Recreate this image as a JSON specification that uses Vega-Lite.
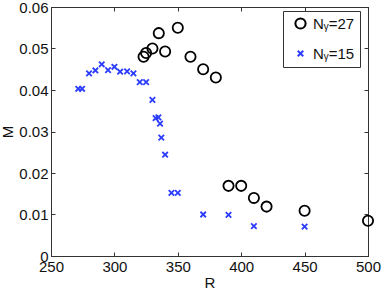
{
  "$schema": "https://vega.github.io/schema/vega-lite/v6.json",
  "width": 317,
  "height": 249,
  "autosize": {"type": "none"},
  "padding": {"left": 51, "top": 7, "right": 14, "bottom": 35},
  "background": "white",
  "config": {
    "view": {"stroke": "#333333", "strokeWidth": 1},
    "font": "Liberation Sans",
    "axis": {
      "grid": false,
      "domainColor": "#333333",
      "tickColor": "#333333",
      "labelColor": "#111111",
      "titleColor": "#111111",
      "labelFont": "Liberation Sans",
      "titleFont": "Liberation Sans",
      "labelFontSize": 15,
      "titleFontSize": 15,
      "titleFontWeight": "normal",
      "tickSize": -4,
      "labelPadding": 7,
      "labelFlush": false,
      "labelOverlap": false
    }
  },
  "data": {
    "values": [
      {"R": 323, "M": 0.048, "s": "Nᵧ=27"},
      {"R": 325, "M": 0.0489, "s": "Nᵧ=27"},
      {"R": 330, "M": 0.050, "s": "Nᵧ=27"},
      {"R": 335, "M": 0.0537, "s": "Nᵧ=27"},
      {"R": 340, "M": 0.0493, "s": "Nᵧ=27"},
      {"R": 350, "M": 0.055, "s": "Nᵧ=27"},
      {"R": 360, "M": 0.048, "s": "Nᵧ=27"},
      {"R": 370, "M": 0.045, "s": "Nᵧ=27"},
      {"R": 380, "M": 0.043, "s": "Nᵧ=27"},
      {"R": 390, "M": 0.0169, "s": "Nᵧ=27"},
      {"R": 400, "M": 0.0169, "s": "Nᵧ=27"},
      {"R": 410, "M": 0.014, "s": "Nᵧ=27"},
      {"R": 420, "M": 0.0119, "s": "Nᵧ=27"},
      {"R": 450, "M": 0.0109, "s": "Nᵧ=27"},
      {"R": 500, "M": 0.0085, "s": "Nᵧ=27"},
      {"R": 271.5, "M": 0.0403, "s": "Nᵧ=15"},
      {"R": 274.5, "M": 0.0403, "s": "Nᵧ=15"},
      {"R": 280, "M": 0.044, "s": "Nᵧ=15"},
      {"R": 285, "M": 0.0447, "s": "Nᵧ=15"},
      {"R": 290, "M": 0.0462, "s": "Nᵧ=15"},
      {"R": 295, "M": 0.0448, "s": "Nᵧ=15"},
      {"R": 300, "M": 0.0456, "s": "Nᵧ=15"},
      {"R": 304.5, "M": 0.0444, "s": "Nᵧ=15"},
      {"R": 310, "M": 0.0445, "s": "Nᵧ=15"},
      {"R": 315, "M": 0.044, "s": "Nᵧ=15"},
      {"R": 320, "M": 0.0419, "s": "Nᵧ=15"},
      {"R": 325, "M": 0.0419, "s": "Nᵧ=15"},
      {"R": 330, "M": 0.0376, "s": "Nᵧ=15"},
      {"R": 332.5, "M": 0.0332, "s": "Nᵧ=15"},
      {"R": 334.7, "M": 0.0334, "s": "Nᵧ=15"},
      {"R": 336, "M": 0.0319, "s": "Nᵧ=15"},
      {"R": 337, "M": 0.0285, "s": "Nᵧ=15"},
      {"R": 340, "M": 0.0244, "s": "Nᵧ=15"},
      {"R": 345, "M": 0.0152, "s": "Nᵧ=15"},
      {"R": 350, "M": 0.0152, "s": "Nᵧ=15"},
      {"R": 370, "M": 0.0100, "s": "Nᵧ=15"},
      {"R": 390, "M": 0.0099, "s": "Nᵧ=15"},
      {"R": 410, "M": 0.0072, "s": "Nᵧ=15"},
      {"R": 450, "M": 0.0071, "s": "Nᵧ=15"}
    ]
  },
  "layer": [
    {
      "mark": {"type": "point", "filled": false, "strokeWidth": 1.8, "opacity": 1},
      "encoding": {
        "x": {"field": "R", "type": "quantitative", "scale": {"domain": [250, 500], "nice": false, "zero": false},
              "axis": {"title": "R", "values": [250, 300, 350, 400, 450, 500], "titlePadding": 1}},
        "y": {"field": "M", "type": "quantitative", "scale": {"domain": [0, 0.06], "nice": false},
              "axis": {"title": "M", "values": [0, 0.01, 0.02, 0.03, 0.04, 0.05, 0.06], "titlePadding": 3,
                       "labelExpr": "datum.value == 0 ? '0' : format(datum.value, '.2f')"}},
        "color": {"field": "s", "type": "nominal",
                  "scale": {"domain": ["Nᵧ=27", "Nᵧ=15"], "range": ["#000000", "#2b3cff"]},
                  "legend": {"title": null, "orient": "none", "legendX": 232, "legendY": 4,
                             "strokeColor": "#333333", "fillColor": "white", "padding": 5,
                             "symbolOffset": 5, "labelOffset": 5, "rowPadding": 13,
                             "labelFontSize": 15, "labelFont": "Liberation Sans", "labelColor": "#111111",
                             "symbolSize": 50, "symbolStrokeWidth": 2}},
        "shape": {"field": "s", "type": "nominal",
                  "scale": {"domain": ["Nᵧ=27", "Nᵧ=15"], "range": ["circle", "M-1,-1L1,1M-1,1L1,-1"]}},
        "size": {"field": "s", "type": "nominal",
                 "scale": {"domain": ["Nᵧ=27", "Nᵧ=15"], "range": [105, 30]}, "legend": null}
      }
    },
    {
      "mark": {"type": "point", "opacity": 0},
      "encoding": {
        "x": {"field": "R", "type": "quantitative",
              "axis": {"orient": "top", "labels": false, "title": null, "values": [250, 300, 350, 400, 450, 500]}},
        "y": {"field": "M", "type": "quantitative",
              "axis": {"orient": "right", "labels": false, "title": null, "values": [0, 0.01, 0.02, 0.03, 0.04, 0.05, 0.06]}}
      }
    }
  ],
  "resolve": {"axis": {"x": "independent", "y": "independent"}}
}
